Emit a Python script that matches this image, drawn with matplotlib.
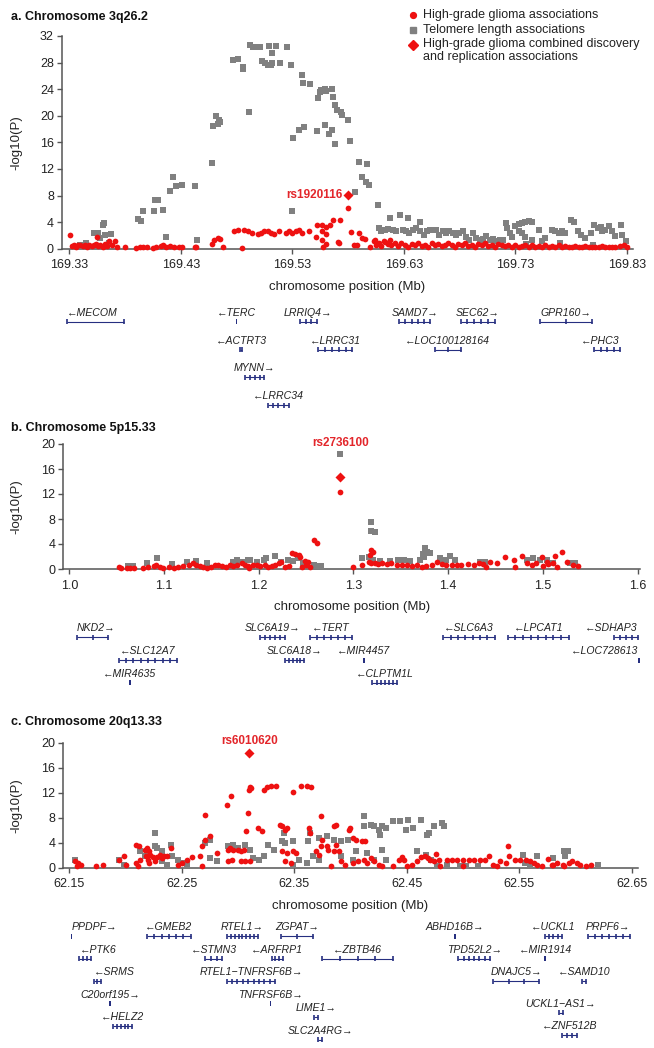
import numpy as np
import matplotlib
matplotlib.use('Agg')
import matplotlib.pyplot as plt
from matplotlib.patches import Rectangle

plt.rcParams['font.family'] = ['Liberation Sans', 'DejaVu Sans']

RED = '#ee1111'
GREY = '#808080'
LABEL_RED = '#e3262b'
NAVY = '#262f80'
AXC = '#555555'

# ---------------- panel a: 3q26.2 ----------------
a_telo = [(169.340, 0.6), (169.345, 0.8), (169.352, 2.4), (169.356, 2.3), (169.358, 1.6),
          (169.360, 3.5), (169.361, 3.8), (169.362, 2.0), (169.367, 2.2), (169.366, 0.9),
          (169.392, 4.4), (169.394, 4.2), (169.396, 5.6), (169.406, 5.7), (169.407, 7.3),
          (169.410, 7.3), (169.414, 5.8), (169.417, 1.7), (169.420, 8.7), (169.423, 10.8),
          (169.426, 9.4), (169.431, 9.6), (169.443, 9.4), (169.445, 1.3), (169.458, 12.9),
          (169.459, 18.5), (169.462, 20.0), (169.463, 18.8), (169.464, 19.4), (169.465, 19.0),
          (169.477, 28.4), (169.481, 28.5), (169.486, 27.4), (169.486, 27.1), (169.491, 20.6),
          (169.492, 30.6), (169.495, 30.4), (169.498, 30.4), (169.501, 30.3), (169.503, 28.2),
          (169.506, 28.0), (169.508, 27.6), (169.511, 27.6), (169.512, 27.9), (169.509, 30.5),
          (169.515, 30.5), (169.512, 29.4), (169.519, 28.0), (169.525, 30.4), (169.529, 27.6),
          (169.530, 5.6), (169.531, 16.6), (169.536, 17.9), (169.541, 18.3), (169.539, 26.1),
          (169.540, 24.9), (169.546, 24.8), (169.553, 22.7), (169.555, 23.6), (169.556, 23.9),
          (169.559, 24.1), (169.560, 23.8), (169.552, 17.7), (169.559, 18.6), (169.563, 17.2),
          (169.566, 24.1), (169.567, 22.8), (169.568, 21.6), (169.570, 20.9), (169.574, 20.6),
          (169.575, 20.1), (169.580, 19.3), (169.566, 17.9), (169.568, 15.8), (169.582, 16.2),
          (169.590, 13.1), (169.597, 12.8), (169.593, 10.8), (169.596, 10.0), (169.599, 9.6),
          (169.586, 8.5), (169.607, 6.5), (169.618, 4.6), (169.627, 5.1), (169.634, 4.6),
          (169.645, 4.0), (169.608, 3.1), (169.610, 2.6), (169.613, 2.8), (169.616, 2.9),
          (169.620, 2.8), (169.623, 2.6), (169.629, 2.8), (169.632, 2.6), (169.635, 2.3),
          (169.638, 2.8), (169.641, 3.1), (169.645, 2.6), (169.648, 2.1), (169.651, 2.6),
          (169.654, 2.8), (169.659, 2.8), (169.662, 2.1), (169.665, 2.6), (169.668, 2.3),
          (169.671, 2.6), (169.674, 2.3), (169.677, 2.1), (169.680, 2.3), (169.683, 2.6),
          (169.686, 1.8), (169.689, 1.3), (169.692, 2.3), (169.695, 1.6), (169.698, 1.3),
          (169.701, 1.4), (169.704, 1.9), (169.707, 1.3), (169.710, 1.4), (169.713, 1.2),
          (169.716, 1.3), (169.719, 1.3), (169.722, 3.9), (169.723, 3.1), (169.725, 2.3),
          (169.727, 1.8), (169.730, 3.4), (169.733, 3.7), (169.736, 3.8), (169.739, 4.0),
          (169.742, 4.1), (169.745, 4.0), (169.733, 2.6), (169.736, 2.3), (169.739, 1.8),
          (169.745, 1.3), (169.751, 2.8), (169.754, 1.1), (169.757, 1.6), (169.763, 2.8),
          (169.766, 2.6), (169.769, 2.3), (169.772, 2.6), (169.775, 2.3), (169.780, 4.3),
          (169.783, 4.0), (169.786, 2.6), (169.789, 2.1), (169.793, 1.6), (169.798, 2.3),
          (169.801, 3.6), (169.804, 3.1), (169.807, 3.3), (169.808, 2.6), (169.811, 2.8),
          (169.814, 3.4), (169.817, 2.6), (169.820, 1.9), (169.825, 3.6), (169.826, 2.1),
          (169.829, 1.1), (169.700, 0.8), (169.740, 0.7), (169.770, 0.9), (169.800, 0.6)]

a_glioma = [(169.331, 2.1), (169.332, 0.4), (169.334, 0.5), (169.336, 0.3), (169.338, 0.5),
            (169.340, 0.6), (169.342, 0.4), (169.344, 0.5), (169.346, 0.3), (169.348, 0.6),
            (169.350, 0.4), (169.352, 0.5), (169.354, 0.7), (169.355, 1.7), (169.356, 0.4),
            (169.358, 0.6), (169.360, 0.3), (169.362, 0.7), (169.364, 0.4), (169.366, 1.2),
            (169.368, 0.5), (169.371, 1.2), (169.373, 0.2), (169.380, 0.2), (169.390, 0.1),
            (169.393, 0.2), (169.396, 0.3), (169.400, 0.2), (169.405, 0.1), (169.408, 0.2),
            (169.412, 0.4), (169.414, 0.6), (169.417, 0.3), (169.420, 0.4), (169.424, 0.2),
            (169.428, 0.3), (169.431, 0.3), (169.443, 0.2), (169.444, 0.3), (169.458, 0.7),
            (169.460, 1.3), (169.463, 1.6), (169.465, 1.5), (169.468, 0.3), (169.485, 0.1),
            (169.478, 2.6), (169.481, 2.8), (169.487, 2.8), (169.490, 2.6), (169.494, 2.3),
            (169.499, 2.2), (169.502, 2.4), (169.505, 2.6), (169.508, 2.7), (169.511, 2.4),
            (169.514, 2.2), (169.518, 2.6), (169.524, 2.3), (169.527, 2.7), (169.530, 2.3),
            (169.533, 2.6), (169.536, 2.8), (169.539, 2.3), (169.545, 2.6), (169.551, 1.8),
            (169.552, 3.6), (169.557, 3.6), (169.560, 3.3), (169.564, 3.6), (169.567, 4.3),
            (169.573, 4.3), (169.557, 2.6), (169.560, 2.2), (169.557, 1.3), (169.560, 0.7),
            (169.558, 0.2), (169.571, 1.0), (169.572, 0.8), (169.580, 6.1), (169.583, 2.5),
            (169.590, 2.3), (169.593, 1.6), (169.595, 1.5), (169.585, 0.5), (169.588, 0.6),
            (169.600, 0.3), (169.603, 1.1), (169.604, 1.3), (169.605, 0.6), (169.608, 0.9),
            (169.610, 0.4), (169.612, 1.2), (169.613, 1.0), (169.616, 0.7), (169.618, 1.3),
            (169.619, 0.5), (169.622, 0.9), (169.625, 0.4), (169.628, 0.8), (169.631, 0.6),
            (169.634, 0.3), (169.637, 0.7), (169.640, 0.5), (169.643, 0.9), (169.646, 0.4),
            (169.649, 0.6), (169.652, 0.3), (169.655, 0.8), (169.658, 0.5), (169.661, 0.7),
            (169.664, 0.4), (169.667, 0.6), (169.670, 0.9), (169.673, 0.5), (169.676, 0.3),
            (169.679, 0.7), (169.682, 0.5), (169.685, 0.8), (169.688, 0.4), (169.691, 0.6),
            (169.694, 0.3), (169.697, 0.7), (169.700, 0.5), (169.703, 0.8), (169.706, 0.4),
            (169.709, 0.6), (169.712, 0.3), (169.715, 0.7), (169.718, 0.5), (169.721, 0.4),
            (169.724, 0.6), (169.727, 0.3), (169.730, 0.5), (169.733, 0.2), (169.736, 0.4),
            (169.739, 0.6), (169.742, 0.3), (169.745, 0.5), (169.748, 0.2), (169.751, 0.4),
            (169.754, 0.3), (169.757, 0.5), (169.760, 0.2), (169.763, 0.4), (169.766, 0.3),
            (169.769, 0.5), (169.772, 0.2), (169.775, 0.4), (169.778, 0.3), (169.781, 0.2),
            (169.784, 0.4), (169.787, 0.3), (169.790, 0.2), (169.793, 0.4), (169.796, 0.3),
            (169.799, 0.2), (169.802, 0.3), (169.805, 0.2), (169.808, 0.4), (169.811, 0.3),
            (169.814, 0.2), (169.817, 0.3), (169.820, 0.2), (169.824, 0.4), (169.828, 0.6),
            (169.830, 0.3)]

a_top = (169.580, 8.1, 'rs1920116')

a_genes = [('MECOM', 169.328, 169.379, 0, '-', 2), ('TERC', 169.480, 169.480, 0, '-', 1),
           ('LRRIQ4', 169.537, 169.552, 0, '+', 4), ('SAMD7', 169.626, 169.654, 0, '+', 6),
           ('SEC62', 169.681, 169.712, 0, '+', 6), ('GPR160', 169.752, 169.799, 0, '+', 3),
           ('ACTRT3', 169.483, 169.485, 1, '-', 2), ('LRRC31', 169.553, 169.584, 1, '-', 6),
           ('LOC100128164', 169.658, 169.681, 1, '-', 3), ('PHC3', 169.801, 169.824, 1, '-', 5),
           ('MYNN', 169.488, 169.505, 2, '+', 5), ('LRRC34', 169.508, 169.527, 3, '-', 5)]

# ---------------- panel b: 5p15.33 ----------------
b_telo = [(1.062, 0.5), (1.067, 0.5), (1.082, 0.9), (1.093, 1.7), (1.108, 0.8), (1.124, 1.1),
          (1.134, 1.3), (1.145, 0.9), (1.173, 1.2), (1.177, 1.4), (1.182, 1.2), (1.189, 1.4),
          (1.191, 1.5), (1.198, 1.1), (1.205, 1.4), (1.208, 1.7), (1.217, 2.1), (1.224, 1.2),
          (1.231, 1.4), (1.236, 1.3), (1.241, 2.0), (1.243, 1.7), (1.247, 0.9), (1.258, 0.6),
          (1.261, 0.5), (1.266, 0.5), (1.286, 18.4), (1.309, 1.7), (1.318, 7.5), (1.318, 6.1),
          (1.323, 5.9), (1.316, 2.0), (1.321, 1.4), (1.328, 1.3), (1.339, 1.3), (1.347, 1.5),
          (1.353, 1.4), (1.360, 1.3), (1.370, 1.5), (1.373, 2.4), (1.376, 3.3), (1.378, 2.8),
          (1.381, 2.5), (1.374, 2.0), (1.391, 1.7), (1.395, 1.4), (1.398, 1.5), (1.402, 2.1),
          (1.407, 1.4), (1.434, 1.1), (1.439, 1.2), (1.483, 1.4), (1.490, 1.7), (1.497, 1.4),
          (1.504, 1.4), (1.511, 1.0), (1.529, 0.9), (1.534, 1.0)]

b_glioma = [(1.052, 0.4), (1.055, 0.1), (1.061, 0.2), (1.064, 0.1), (1.068, 0.2), (1.078, 0.1),
            (1.083, 0.4), (1.089, 0.5), (1.092, 0.7), (1.096, 0.4), (1.099, 0.1), (1.105, 0.4),
            (1.110, 0.2), (1.115, 0.4), (1.120, 0.5), (1.126, 0.6), (1.131, 0.9), (1.134, 0.6),
            (1.138, 0.5), (1.141, 0.4), (1.145, 0.2), (1.150, 0.4), (1.154, 0.6), (1.157, 0.7),
            (1.161, 0.5), (1.165, 0.3), (1.170, 0.6), (1.173, 0.5), (1.177, 0.6), (1.182, 0.9),
            (1.185, 0.6), (1.189, 0.5), (1.190, 0.2), (1.194, 0.6), (1.198, 0.7), (1.201, 0.5),
            (1.207, 0.6), (1.210, 0.4), (1.214, 0.5), (1.217, 0.6), (1.221, 0.9), (1.224, 1.2),
            (1.228, 0.3), (1.232, 0.5), (1.235, 2.6), (1.238, 2.4), (1.242, 2.2), (1.244, 2.0),
            (1.246, 0.3), (1.249, 1.3), (1.252, 1.1), (1.250, 0.6), (1.254, 0.4), (1.258, 4.7),
            (1.261, 4.1), (1.286, 12.4), (1.300, 0.4), (1.309, 0.6), (1.318, 3.0), (1.321, 2.8),
            (1.317, 2.2), (1.316, 1.2), (1.319, 0.9), (1.323, 1.0), (1.326, 0.8), (1.330, 0.9),
            (1.335, 0.8), (1.340, 0.9), (1.346, 0.6), (1.351, 0.7), (1.356, 0.6), (1.362, 0.5),
            (1.367, 0.6), (1.372, 0.4), (1.377, 0.5), (1.383, 0.6), (1.388, 1.2), (1.393, 0.8),
            (1.398, 0.6), (1.404, 0.6), (1.409, 0.7), (1.414, 0.6), (1.421, 0.8), (1.427, 0.6),
            (1.432, 1.0), (1.437, 0.8), (1.440, 0.3), (1.444, 1.2), (1.451, 0.9), (1.460, 1.9),
            (1.469, 1.4), (1.470, 0.4), (1.478, 2.1), (1.483, 0.9), (1.488, 0.6), (1.493, 0.9),
            (1.499, 1.9), (1.500, 0.5), (1.504, 1.2), (1.505, 0.8), (1.511, 0.9), (1.513, 2.1),
            (1.515, 0.4), (1.520, 2.7), (1.525, 1.2), (1.532, 0.6), (1.537, 0.5)]

b_top = (1.286, 14.8, 'rs2736100')

b_genes = [('NKD2', 1.008, 1.041, 0, '+', 3), ('SLC6A19', 1.201, 1.228, 0, '+', 6),
           ('TERT', 1.254, 1.298, 0, '-', 7), ('SLC6A3', 1.395, 1.449, 0, '-', 8),
           ('LPCAT1', 1.463, 1.527, 0, '-', 9), ('SDHAP3', 1.575, 1.600, 0, '-', 5),
           ('SLC12A7', 1.052, 1.114, 1, '-', 9), ('SLC6A18', 1.228, 1.248, 1, '+', 6),
           ('MIR4457', 1.311, 1.311, 1, '-', 1), ('LOC728613', 1.601, 1.601, 1, '-', 1),
           ('MIR4635', 1.064, 1.064, 2, '-', 1), ('CLPTM1L', 1.320, 1.346, 2, '-', 7)]

# ---------------- panel c: 20q13.33 ----------------
c_telo = [(62.155, 1.2), (62.194, 1.2), (62.199, 0.4), (62.213, 2.6), (62.217, 1.8), (62.226, 5.5),
          (62.226, 3.4), (62.228, 3.1), (62.232, 2.6), (62.240, 3.6), (62.241, 1.8), (62.232, 1.0),
          (62.237, 0.4), (62.247, 1.2), (62.250, 0.7), (62.255, 0.4), (62.275, 4.4), (62.271, 4.0),
          (62.275, 1.5), (62.281, 1.0), (62.291, 3.4), (62.296, 3.6), (62.300, 3.1), (62.306, 3.6),
          (62.311, 2.8), (62.313, 1.5), (62.319, 1.3), (62.323, 1.8), (62.327, 3.6), (62.332, 2.8),
          (62.339, 4.2), (62.342, 3.9), (62.349, 4.2), (62.341, 5.5), (62.362, 4.2), (62.364, 5.5),
          (62.372, 4.7), (62.379, 5.0), (62.385, 4.4), (62.392, 4.2), (62.398, 4.4), (62.349, 0.4),
          (62.354, 1.2), (62.361, 0.7), (62.367, 1.8), (62.372, 1.2), (62.412, 6.6), (62.418, 6.8),
          (62.421, 6.7), (62.425, 6.0), (62.428, 6.6), (62.426, 5.2), (62.412, 8.3), (62.432, 6.3),
          (62.438, 7.4), (62.444, 7.4), (62.451, 7.6), (62.449, 6.0), (62.456, 6.3), (62.463, 7.6),
          (62.468, 5.2), (62.470, 5.5), (62.474, 6.6), (62.481, 7.1), (62.483, 6.6), (62.392, 1.8),
          (62.402, 1.2), (62.405, 2.6), (62.415, 2.3), (62.421, 1.2), (62.428, 2.8), (62.432, 1.2),
          (62.459, 2.6), (62.467, 2.0), (62.472, 1.2), (62.477, 0.3), (62.486, 0.4), (62.497, 0.3),
          (62.503, 0.3), (62.513, 0.3), (62.553, 2.0), (62.566, 1.8), (62.555, 0.7), (62.560, 0.4),
          (62.580, 1.5), (62.590, 2.6), (62.593, 2.6), (62.591, 1.8), (62.620, 0.4)]

c_glioma = [(62.155, 1.0), (62.158, 0.7), (62.157, 0.3), (62.160, 0.4), (62.174, 0.3), (62.180, 0.4),
            (62.194, 1.3), (62.199, 1.9), (62.200, 0.4), (62.209, 3.6), (62.212, 3.5), (62.213, 1.2),
            (62.211, 0.2), (62.209, 0.8), (62.217, 2.8), (62.219, 3.1), (62.221, 2.6), (62.222, 2.0),
            (62.218, 1.8), (62.220, 1.3), (62.221, 0.7), (62.224, 1.7), (62.226, 1.0), (62.228, 1.7),
            (62.231, 2.0), (62.232, 1.5), (62.234, 1.9), (62.237, 1.8), (62.240, 3.2), (62.247, 0.4),
            (62.250, 0.7), (62.255, 1.2), (62.259, 1.7), (62.266, 1.8), (62.268, 3.5), (62.271, 4.5),
            (62.275, 5.1), (62.271, 8.5), (62.268, 0.2), (62.281, 2.4), (62.290, 10.1), (62.294, 11.5),
            (62.291, 2.8), (62.293, 3.1), (62.296, 2.8), (62.300, 2.8), (62.303, 2.6), (62.305, 2.8),
            (62.291, 1.0), (62.295, 1.2), (62.303, 1.0), (62.306, 1.0), (62.311, 1.0), (62.309, 8.8),
            (62.307, 5.8), (62.310, 12.4), (62.311, 12.9), (62.312, 12.7), (62.318, 6.3), (62.321, 5.9),
            (62.323, 12.5), (62.326, 12.9), (62.329, 13.1), (62.334, 13.0), (62.337, 6.8), (62.339, 6.6),
            (62.342, 6.0), (62.344, 6.3), (62.339, 2.6), (62.344, 2.4), (62.349, 2.6), (62.352, 2.4),
            (62.342, 1.0), (62.347, 0.7), (62.349, 12.1), (62.356, 13.0), (62.361, 13.0), (62.365, 12.9),
            (62.363, 6.3), (62.364, 5.5), (62.369, 2.6), (62.372, 2.0), (62.374, 3.4), (62.375, 4.4),
            (62.374, 8.3), (62.379, 3.4), (62.380, 2.8), (62.385, 2.6), (62.387, 3.6), (62.390, 2.6),
            (62.387, 6.8), (62.385, 6.6), (62.400, 6.3), (62.399, 6.0), (62.402, 4.7), (62.405, 4.4),
            (62.410, 4.3), (62.413, 4.3), (62.392, 1.0), (62.395, 0.4), (62.402, 0.7), (62.407, 1.0),
            (62.412, 1.2), (62.415, 0.7), (62.418, 1.5), (62.421, 1.0), (62.425, 0.4), (62.428, 0.3),
            (62.438, 0.3), (62.443, 1.2), (62.446, 1.7), (62.448, 1.3), (62.459, 1.0), (62.463, 1.7),
            (62.466, 1.8), (62.469, 1.5), (62.471, 1.2), (62.474, 1.0), (62.476, 2.2), (62.479, 1.3),
            (62.486, 1.2), (62.490, 1.2), (62.495, 1.2), (62.500, 1.2), (62.505, 1.2), (62.510, 1.2),
            (62.515, 1.2), (62.520, 1.2), (62.523, 1.8), (62.527, 0.4), (62.533, 1.0), (62.538, 0.7),
            (62.540, 3.5), (62.541, 1.8), (62.546, 1.2), (62.551, 1.2), (62.556, 1.2), (62.560, 1.0),
            (62.563, 0.7), (62.566, 0.4), (62.576, 1.4), (62.579, 0.4), (62.584, 0.7), (62.589, 0.4),
            (62.594, 0.7), (62.597, 1.0), (62.601, 0.7), (62.604, 0.4), (62.609, 0.3), (62.614, 0.4),
            (62.383, 0.2), (62.450, 0.2), (62.455, 0.5), (62.480, 0.3), (62.500, 0.2), (62.530, 0.3),
            (62.570, 0.2), (62.580, 0.5), (62.590, 0.2)]

c_top = (62.310, 18.3, 'rs6010620')

c_genes = [('PPDPF', 62.152, 62.152, 0, '+', 1), ('GMEB2', 62.219, 62.258, 0, '-', 7),
           ('RTEL1', 62.290, 62.318, 0, '+', 9), ('ZGPAT', 62.338, 62.367, 0, '+', 3),
           ('ABHD16B', 62.493, 62.493, 0, '+', 1), ('UCKL1', 62.573, 62.588, 0, '-', 5),
           ('PRPF6', 62.611, 62.649, 0, '+', 7), ('PTK6', 62.159, 62.169, 1, '-', 4),
           ('STMN3', 62.271, 62.286, 1, '-', 4), ('ARFRP1', 62.330, 62.340, 1, '-', 4),
           ('ZBTB46', 62.375, 62.438, 1, '-', 5), ('TPD52L2', 62.496, 62.524, 1, '+', 7),
           ('MIR1914', 62.573, 62.573, 1, '-', 1), ('SRMS', 62.172, 62.178, 2, '-', 3),
           ('RTEL1\u2212TNFRSF6B', 62.290, 62.333, 2, '+', 10), ('DNAJC5', 62.527, 62.568, 2, '+', 4),
           ('SAMD10', 62.606, 62.609, 2, '-', 2), ('C20orf195', 62.186, 62.187, 3, '+', 1),
           ('TNFRSF6B', 62.329, 62.329, 3, '+', 1), ('UCKL1\u2212AS1', 62.585, 62.589, 3.4, '+', 2),
           ('LIME1', 62.368, 62.371, 3.6, '+', 2), ('HELZ2', 62.189, 62.206, 4, '-', 6),
           ('ZNF512B', 62.588, 62.601, 4.4, '-', 4), ('SLC2A4RG', 62.371, 62.375, 4.6, '+', 2)]

LEGEND = ['High-grade glioma associations', 'Telomere length associations',
          'High-grade glioma combined discovery\nand replication associations']

W, H = 654, 1048
fig = plt.figure(figsize=(W / 100, H / 100), dpi=100)


def px_axes(left, top, right, bottom):
    return fig.add_axes([left / W, 1 - bottom / H, (right - left) / W, (bottom - top) / H])


def manhattan(box, xlim, xticks, fmt, ymax, telo, glioma, top, title, title_y, label_pos):
    ax = px_axes(*box)
    tx, ty = zip(*telo)
    gx, gy = zip(*glioma)
    ax.scatter(tx, ty, marker='s', s=14, c=GREY, lw=0, clip_on=False, zorder=3)
    ax.scatter(gx, gy, marker='o', s=17, c=RED, lw=0, clip_on=False, zorder=4)
    ax.scatter([top[0]], [top[1]], marker='D', s=26, c=RED, lw=0, clip_on=False, zorder=5)
    if label_pos == 'left':
        ax.annotate(top[2], (top[0], top[1]), xytext=(-4, 0), textcoords='offset points',
                    ha='right', va='center', color=LABEL_RED, fontsize=8.5, fontweight='bold')
    else:
        ax.text(top[0], ymax + 0.2, top[2], ha='center', va='center',
                color=LABEL_RED, fontsize=8.5, fontweight='bold')
    ax.set_xlim(*xlim)
    ax.set_ylim(0, ymax)
    ax.set_xticks(xticks)
    ax.set_xticklabels([fmt % v for v in xticks])
    ax.set_yticks(np.arange(0, ymax + 1, 4))
    for s in ['top', 'right']:
        ax.spines[s].set_visible(False)
    for s in ['left', 'bottom']:
        ax.spines[s].set_color(AXC)
        ax.spines[s].set_linewidth(1.1)
    ax.tick_params(direction='out', length=3.6, width=1.0, color=AXC, labelsize=9,
                   labelcolor='#222222')
    ax.tick_params(axis='x', pad=4)
    ax.tick_params(axis='y', pad=2)
    ax.set_xlabel('chromosome position (Mb)', fontsize=9.5, color='#222222', labelpad=7)
    ycen = (box[1] + box[3]) / 2
    fig.text(16 / W, 1 - ycen / H, '-log10(P)', rotation=90, ha='center', va='center',
             fontsize=9.5, color='#222222')
    fig.text(11 / W, 1 - title_y / H, title, ha='left', va='center', fontsize=9,
             fontweight='bold', color='#111111')
    return ax


def gene_track(box, xlim, genes, base, step):
    gax = px_axes(*box)
    gax.set_xlim(*xlim)
    gax.set_ylim(box[3], box[1])
    gax.axis('off')
    span = xlim[1] - xlim[0]
    for name, s, e, row, strand, nex in genes:
        y = base + row * step
        if e - s < 0.002 * span:
            gax.add_patch(Rectangle((s - 0.0015 * span, y - 2.5), 0.003 * span, 5,
                                    color=NAVY, lw=0))
        else:
            gax.plot([s, e], [y, y], color=NAVY, lw=0.8, solid_capstyle='butt')
            for xe in np.linspace(s, e, max(nex, 2)):
                gax.plot([xe, xe], [y - 2.5, y + 2.5], color=NAVY, lw=1.2,
                         solid_capstyle='butt')
        label = ('\u2190' + name) if strand == '-' else (name + '\u2192')
        c = (s + e) / 2
        if c - xlim[0] < 0.06 * span:
            x, ha = s, 'left'
        elif xlim[1] - c < 0.06 * span:
            x, ha = e, 'right'
        else:
            x, ha = c, 'center'
        gax.text(x, y - 9, label, ha=ha, va='center', fontsize=7.6, style='italic',
                 color='#222222')


# panel a
xa = (169.3232, 169.8357)
manhattan((61.7, 36, 633, 248.7), xa, np.arange(169.33, 169.84, 0.1), '%.2f', 32,
          a_telo, a_glioma, a_top, 'a. Chromosome 3q26.2', 16.7, 'left')
gene_track((61.7, 300, 633, 420), xa, a_genes, 321.7, 27.8)

# panel b
xb = (0.99367, 1.60243)
manhattan((63.3, 444, 640, 569), xb, np.arange(1.0, 1.61, 0.1), '%.1f', 20,
          b_telo, b_glioma, b_top, 'b. Chromosome 5p15.33', 428, 'above')
gene_track((63.3, 620, 640, 700), xb, b_genes, 637.3, 22.7)

# panel c
xc = (62.1444, 62.6555)
manhattan((63, 742.7, 637.8, 867.7), xc, np.arange(62.15, 62.66, 0.1), '%.2f', 20,
          c_telo, c_glioma, c_top, 'c. Chromosome 20q13.33', 721.7, 'above')
gene_track((63, 915, 637.8, 1048), xc, c_genes, 936, 22.5)

# legend (top right)
lx, ltx = 413, 423
fig.lines.append(plt.Line2D([lx / W], [1 - 15 / H], marker='o', ms=4.2, color=RED, lw=0,
                            transform=fig.transFigure))
fig.lines.append(plt.Line2D([lx / W], [1 - 30 / H], marker='s', ms=3.8, color=GREY, lw=0,
                            transform=fig.transFigure))
fig.lines.append(plt.Line2D([lx / W], [1 - 45 / H], marker='D', ms=4.6, color=RED, lw=0,
                            transform=fig.transFigure))
fig.text(ltx / W, 1 - 15 / H, LEGEND[0], ha='left', va='center', fontsize=9, color='#222222')
fig.text(ltx / W, 1 - 30 / H, LEGEND[1], ha='left', va='center', fontsize=9, color='#222222')
fig.text(ltx / W, 1 - 38 / H, LEGEND[2], ha='left', va='top', fontsize=9, color='#222222',
         linespacing=1.15)

fig.savefig('out.png', dpi=100)
